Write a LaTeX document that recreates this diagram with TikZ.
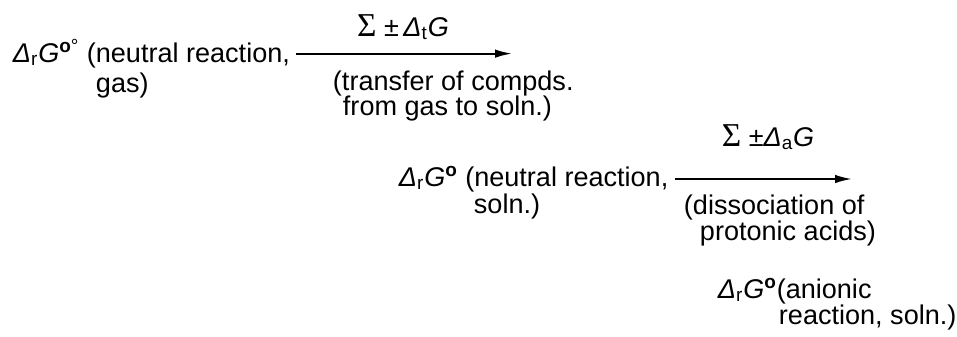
\documentclass[tikz,border=0pt]{standalone}
\usepackage{fontspec}
\setmainfont{Liberation Sans}
\newfontfamily\sigmafont{Liberation Serif}
\usetikzlibrary{arrows.meta}
\newcommand{\drG}{\textit{Δ}\textsubscript{r}\textit{G}}
\newcommand{\sumsign}{{\sigmafont\fontsize{19}{19}\selectfont Σ}}
\newcommand{\stdo}{\textsuperscript{\textbf{o}}}

\begin{document}
\begin{tikzpicture}[x=0.02cm,y=-0.02cm,line width=1.1pt,>={Latex[length=3.4mm,width=1.7mm]},
  every node/.style={inner sep=0pt,anchor=base west,font=\fontsize{15.4}{18}\selectfont}]
  \useasboundingbox (0,0) rectangle (957,336);
  % neutral reaction in the gas phase
  \node (gasA) at (12,62) {\drG\textsuperscript{\textbf{o}°} (neutral reaction,};
  \node (gasB) at (95,92) {gas)};
  \coordinate (trEnd) at (512,53);
  \draw[->] ([xshift=3pt]gasA.east) -- (gasA.east -| trEnd);
  \node[anchor=base] (trTop) at (403,36) {\sumsign\ ±\,\textit{Δ}\textsubscript{t}\textit{G}};
  \node (trA) at (332,90) {(transfer of compds.};
  \node (trB) at (342,115) {from gas to soln.)};
  % neutral reaction in solution
  \node (solA) at (398,186) {\drG\stdo\ (neutral reaction,};
  \node (solB) at (473,213) {soln.)};
  \coordinate (dsEnd) at (852,177);
  \draw[->] ([xshift=3pt]solA.east) -- (solA.east -| dsEnd);
  \node[anchor=base] (dsTop) at (768,146) {\sumsign\ ±\textit{Δ}\textsubscript{a}\textit{G}};
  \node (dsA) at (683,214) {(dissociation of};
  \node (dsB) at (699,240) {protonic acids)};
  % anionic reaction in solution
  \node (anA) at (717,298) {\drG\stdo(anionic};
  \node (anB) at (778,324) {reaction, soln.)};
\end{tikzpicture}
\end{document}
